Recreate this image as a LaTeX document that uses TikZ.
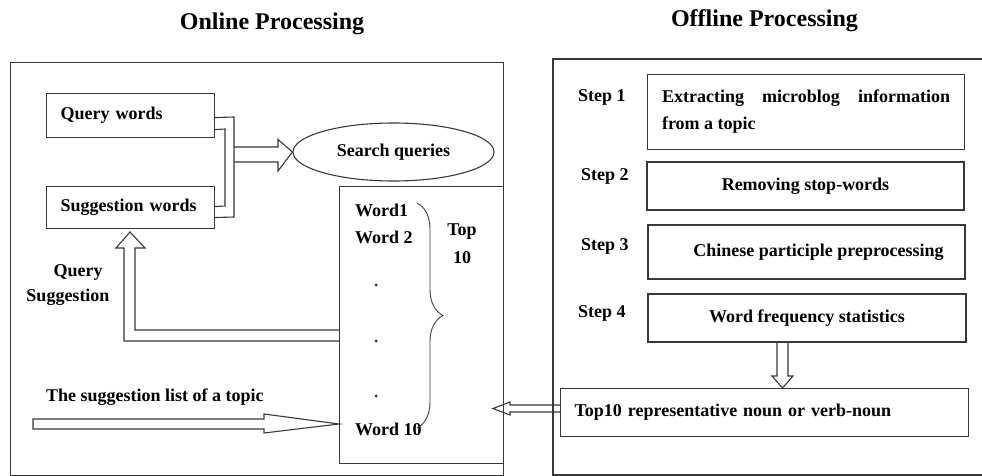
\documentclass[tikz,border=0pt]{standalone}
\usepackage{fontspec}
\setmainfont{Liberation Serif}
\usetikzlibrary{calc,shapes.geometric,decorations.pathreplacing}
\newcommand{\mybt}{\bfseries\fontsize{18}{27}\selectfont}
\newcommand{\myttl}{\bfseries\fontsize{24}{28}\selectfont}
\begin{document}
\begin{tikzpicture}[x=1pt,y=-1pt,
  ln/.style={draw=black!78, line width=1.1pt},
  bx/.style={ln, rectangle, inner sep=0pt, font=\mybt},
  t/.style={inner sep=0pt, font=\mybt},
  blk/.style={ln, line join=miter}]
\useasboundingbox (0,0) rectangle (982,476);
% titles
\node[t, font=\myttl] (tOn) at (272,24) {Online Processing};
\node[t, font=\myttl] (tOff) at (764.5,21) {Offline Processing};
% frames
\node[ln, anchor=north west, minimum width=493, minimum height=413, inner sep=0pt] (fOn) at (10,62) {};
\draw[ln] (982,59) -- (553,59) -- (553,475) -- (982,475);
% online part
\node[bx, anchor=north west, minimum width=168, minimum height=44, text width=140, inner xsep=14, align=left] (qw) at (46,93) {Query words};
\node[bx, anchor=north west, minimum width=168, minimum height=42, text width=140, inner xsep=14, align=left] (sw) at (46,186) {Suggestion words};
\node[ln, ellipse, minimum width=201, minimum height=58, inner sep=0pt, font=\mybt] (sq) at (393.5,152) {Search queries};
\node[ln, anchor=north west, minimum width=164, minimum height=277, inner sep=0pt] (wl) at (339,186) {};
\node[t, anchor=west] (w1) at (355,210) {Word1};
\node[t, anchor=west] (w2) at (355,237) {Word 2};
\node[t, anchor=west] (w10) at (355,429) {Word 10};
\node[circle, fill=black!85, inner sep=0pt, minimum size=3pt] (d1) at (376,285) {};
\node[circle, fill=black!85, inner sep=0pt, minimum size=3pt] (d2) at (376,341) {};
\node[circle, fill=black!85, inner sep=0pt, minimum size=3pt] (d3) at (376,396) {};
\draw[draw=black!75, line width=0.9pt, decorate, decoration={brace, amplitude=26pt}] (417,203) -- (417,428);
\node[t] (top) at (462,232) {Top};
\node[t] (ten) at (462,258) {10};
\node[t] (qsa) at (78,272) {Query};
\node[t] (qsb) at (68,297) {Suggestion};
\node[t, anchor=west] (sl) at (46,397) {The suggestion list of a topic};
% brackets from query / suggestion words
\draw[ln] ($(qw.east)+(0,2)$) -- (234,117) -- (234,217) -- ($(sw.east)+(0,10)$);
\draw[ln] ($(qw.east)+(0,14)$) -- (225,129) -- (225,206) -- ($(sw.east)+(0,-1)$);
% block arrow to search queries
\draw[blk] (234,147) -- (278,147) -- (278,139.5) -- (sq.west) -- (278,171) -- (278,162) -- (234,162);
% query suggestion arrow
\draw[blk] (wl.west |- 0,330) -- (135,330) -- (135,248) -- (145,248) -- (130,232) -- (116,248) -- (124,248) -- (124,341) -- (wl.west |- 0,341);
% suggestion list arrow
\draw[blk] (wl.west |- 0,424) -- (264,414) -- (264,419) -- (33,419) -- (33,429) -- (264,429) -- (264,433) -- cycle;
% offline part
\node[t, anchor=west] (st1) at (578,97) {Step 1};
\node[t, anchor=west] (st2) at (581,176) {Step 2};
\node[t, anchor=west] (st3) at (581,246) {Step 3};
\node[t, anchor=west] (st4) at (578,313) {Step 4};
\node[bx, anchor=north west, minimum width=317, minimum height=75, text width=288, inner xsep=14.5, align=justify] (s1) at (647,74) {\hyphenpenalty=10000 \tolerance=9999 Extracting microblog information from a topic};
\node[bx, minimum width=317, minimum height=48] (s2) at (805.5,186) {Removing stop-words};
\node[bx, minimum width=317, minimum height=54] (s3) at (806.5,252) {\hspace*{24pt}Chinese participle preprocessing};
\node[bx, minimum width=318, minimum height=48] (s4) at (807,318) {Word frequency statistics};
\node[bx, anchor=north west, minimum width=408, minimum height=48, text width=380, inner xsep=14, align=left] (top10) at (560,388) {Top10 representative noun or verb-noun};
% down arrow
\draw[blk] (s4.south -| 777,0) -- (777,376) -- (772,376) -- (top10.north -| 782.5,0) -- (793,376) -- (788,376) -- (s4.south -| 788,0);
% left arrow
\draw[blk] (top10.west |- 0,405) -- (510,405) -- (510,402) -- (493,408.5) -- (510,415) -- (510,412) -- (top10.west |- 0,412);
\end{tikzpicture}
\end{document}
